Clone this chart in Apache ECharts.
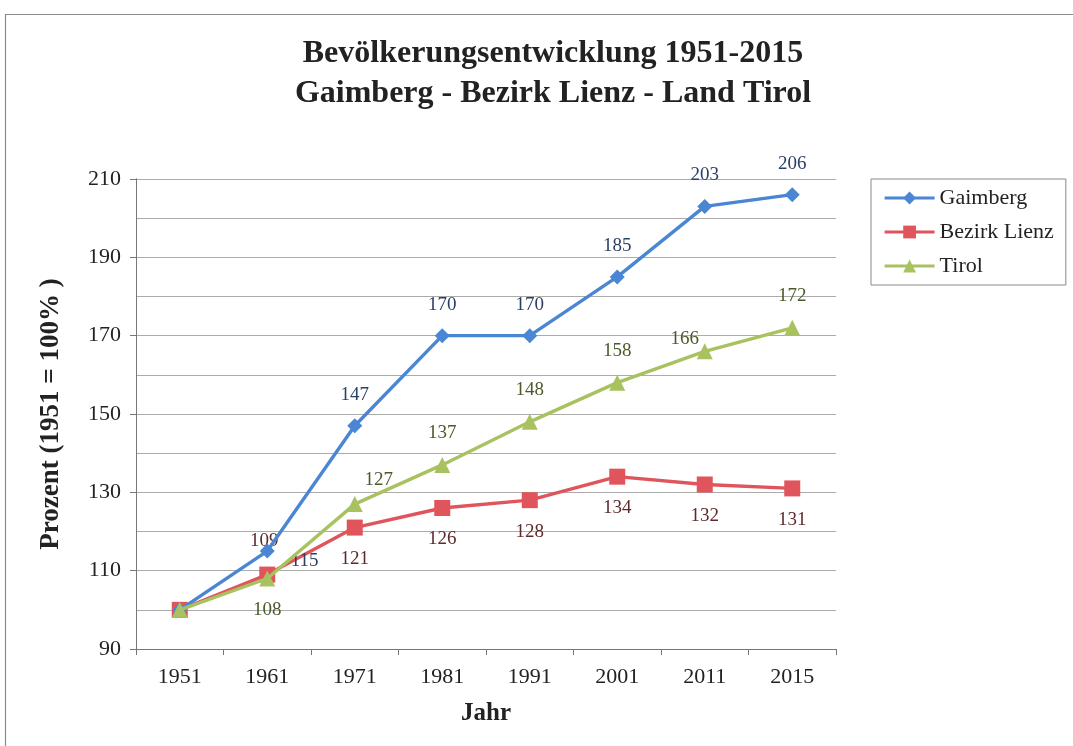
<!DOCTYPE html>
<html>
<head>
<meta charset="utf-8">
<script src="https://cdn.jsdelivr.net/npm/echarts@6/dist/echarts.min.js"></script>
<style>
html,body{margin:0;padding:0;background:#fff;}
#c{width:1073px;height:746px;}
</style>
</head>
<body>
<div id="c"></div>
<script>
const years = ['1951','1961','1971','1981','1991','2001','2011','2015'];
const gaimberg = [100, 115, 147, 170, 170, 185, 203, 206];
const bezirkLienz = [100, 109, 121, 126, 128, 134, 132, 131];
const tirol = [100, 108, 127, 137, 148, 158, 166, 172];
const yTickLabels = [90, 110, 130, 150, 170, 190, 210];

const FONT = '"Liberation Serif", "DejaVu Serif", serif';

function pts(values, labelCfg) {
  return values.map((v, i) => {
    const cfg = labelCfg[i];
    if (cfg === null) return { value: v, label: { show: false } };
    return { value: v, label: Object.assign({ show: true }, cfg) };
  });
}

const chart = echarts.init(document.getElementById('c'), null, { renderer: 'canvas' });

const option = {
  backgroundColor: '#ffffff',
  animation: false,
  graphic: [{
    type: 'rect',
    shape: { x: 5.5, y: 14.5, width: 1100, height: 800 },
    style: { fill: 'none', stroke: '#8c8c8c', lineWidth: 1.2 },
    silent: true, z: -1
  }],
  title: {
    text: 'Bevölkerungsentwicklung 1951-2015\nGaimberg - Bezirk Lienz - Land Tirol',
    left: 548, top: 29, textAlign: 'center',
    textStyle: { fontFamily: FONT, fontWeight: 'bold', fontSize: 32, color: '#222', lineHeight: 40 }
  },
  legend: {
    orient: 'vertical',
    left: 871, top: 179,
    padding: [8, 12, 8, 12],
    itemGap: 12,
    itemWidth: 50, itemHeight: 16,
    borderColor: '#8a8a8a', borderWidth: 1,
    lineStyle: { width: 3.2 },
    textStyle: { fontFamily: FONT, fontSize: 22, color: '#222' },
    data: ['Gaimberg', 'Bezirk Lienz', 'Tirol']
  },
  grid: { left: 136, right: 237, top: 179, bottom: 97, containLabel: false },
  xAxis: {
    type: 'category',
    data: years,
    boundaryGap: true,
    name: 'Jahr',
    nameLocation: 'middle',
    nameGap: 52,
    nameTextStyle: { fontFamily: FONT, fontWeight: 'bold', fontSize: 25, color: '#222' },
    axisLine: { lineStyle: { color: '#777', width: 1 } },
    axisTick: { show: true, length: 6, lineStyle: { color: '#777' } },
    axisLabel: { fontFamily: FONT, fontSize: 22, color: '#222', margin: 17 },
    splitLine: { show: false }
  },
  yAxis: [
    {
      type: 'value',
      min: 90, max: 210, interval: 10,
      name: 'Prozent (1951 = 100% )',
      nameLocation: 'middle',
      nameGap: 71,
      nameRotate: 90,
      nameTextStyle: { fontFamily: FONT, fontWeight: 'bold', fontSize: 27, color: '#222' },
      axisLine: { show: true, lineStyle: { color: '#777', width: 1 } },
      axisTick: { show: false },
      axisLabel: {
        fontFamily: FONT, fontSize: 22, color: '#222', margin: 15,
        formatter: v => (yTickLabels.indexOf(v) >= 0 ? String(v) : '')
      },
      splitLine: { show: true, lineStyle: { color: '#ababab', width: 1 } }
    },
    {
      type: 'value',
      min: 90, max: 210, interval: 10,
      position: 'left', offset: 0,
      axisLine: { show: true, lineStyle: { color: '#777', width: 1 } },
      axisTick: { show: true, inside: false, length: 6, customValues: yTickLabels, lineStyle: { color: '#777', width: 1 } },
      axisLabel: { show: false },
      splitLine: { show: false }
    }
  ],
  series: [
    {
      name: 'Gaimberg', type: 'line',
      color: '#4a86d4',
      symbol: 'diamond', symbolSize: 15,
      lineStyle: { width: 3.4, color: '#4a86d4' },
      itemStyle: { color: '#4a86d4' },
      label: { fontFamily: FONT, fontSize: 19, color: '#2b3f66', distance: 14 },
      z: 4,
      data: pts(gaimberg, [
        null,
        { position: 'right', offset: [2, 10] },
        { position: 'top' },
        { position: 'top' },
        { position: 'top' },
        { position: 'top' },
        { position: 'top' },
        { position: 'top' }
      ])
    },
    {
      name: 'Bezirk Lienz', type: 'line',
      color: '#e0555c',
      symbol: 'rect', symbolSize: 16,
      lineStyle: { width: 3.4, color: '#e0555c' },
      itemStyle: { color: '#e0555c' },
      label: { fontFamily: FONT, fontSize: 19, color: '#5e2a2c', distance: 14 },
      z: 3,
      data: pts(bezirkLienz, [
        null,
        { position: 'top', offset: [-3, -2] },
        { position: 'bottom' },
        { position: 'bottom' },
        { position: 'bottom' },
        { position: 'bottom' },
        { position: 'bottom' },
        { position: 'bottom' }
      ])
    },
    {
      name: 'Tirol', type: 'line',
      color: '#a8c260',
      symbol: 'triangle', symbolSize: 16,
      lineStyle: { width: 3.4, color: '#a8c260' },
      itemStyle: { color: '#a8c260' },
      label: { fontFamily: FONT, fontSize: 19, color: '#4a5a2a', distance: 14 },
      z: 5,
      data: pts(tirol, [
        null,
        { position: 'bottom' },
        { position: 'top', offset: [24, 7] },
        { position: 'top' },
        { position: 'top' },
        { position: 'top' },
        { position: 'top', offset: [-20, 19] },
        { position: 'top' }
      ])
    }
  ]
};

chart.setOption(option);
</script>
</body>
</html>
